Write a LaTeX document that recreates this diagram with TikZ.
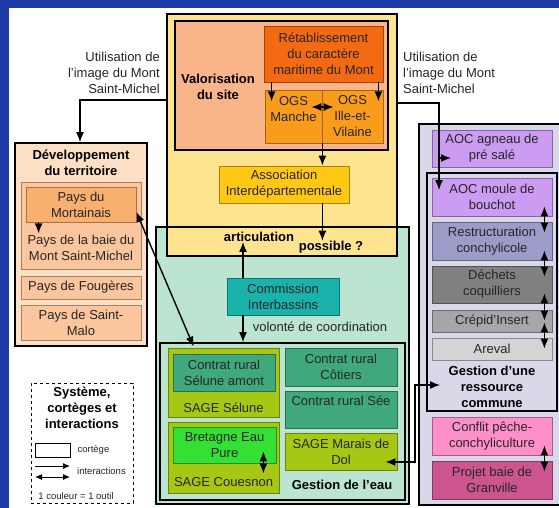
\documentclass[tikz,border=0pt]{standalone}
\usepackage{fontspec}
\setmainfont{Liberation Sans}
\usetikzlibrary{positioning, arrows.meta, calc}

\definecolor{cadre}{HTML}{1D3BA8}
\definecolor{jaune}{HTML}{FFE48F}
\definecolor{saumon}{HTML}{F9B489}
\definecolor{orangeFonce}{HTML}{F46A12}
\definecolor{orangeVif}{HTML}{F99B1B}
\definecolor{dore}{HTML}{FFC814}
\definecolor{menthe}{HTML}{BBE5D0}
\definecolor{turquoise}{HTML}{1AB3AC}
\definecolor{sage}{HTML}{A6C814}
\definecolor{contrat}{HTML}{3FA97C}
\definecolor{eaupure}{HTML}{33E033}
\definecolor{lavande}{HTML}{D8D8E8}
\definecolor{violetAOC}{HTML}{CC9CF2}
\definecolor{bleugris}{HTML}{9C9CC9}
\definecolor{grisFonce}{HTML}{808080}
\definecolor{grisMoyen}{HTML}{A6A6A6}
\definecolor{grisClair}{HTML}{D4D4D4}
\definecolor{rose}{HTML}{FF8FCB}
\definecolor{framboise}{HTML}{CC5590}
\definecolor{peche}{HTML}{FDDFC3}
\definecolor{pecheMoy}{HTML}{FBC69E}
\definecolor{pecheFonce}{HTML}{F8B06F}

\begin{document}
\begin{tikzpicture}[x=1pt, y=-1pt,
	every node/.style={font=\fontsize{13}{16}\selectfont, text=black!85, align=center, inner sep=0pt},
	groupbox/.style={draw=black, line width=1.6pt},
	cellbox/.style={draw=#1!65!black, fill=#1, line width=0.8pt},
	titre/.style={font=\fontsize{13}{16}\selectfont\bfseries, text=black},
	petit/.style={font=\fontsize{9.5}{11}\selectfont},
	link/.style={line width=1.4pt, -{Latex[length=10pt,width=8pt]}},
	twolink/.style={line width=1.4pt, {Latex[length=10pt,width=8pt]}-{Latex[length=10pt,width=8pt]}}]
		
		\useasboundingbox (0,0) rectangle (559,508);
		\fill[cadre] (0,0) rectangle (559,508);
		\fill[white] (9,8) rectangle (559,508);
		
		%Water management block (border drawn again later)
		\node (eau) at (282.5,365.5) [fill=menthe, minimum width=253, minimum height=277] {};
		
		%Site block
		\node (valo) at (282,135) [groupbox, fill=jaune, minimum width=230, minimum height=242] {};
		\node (valoInt) at (281.5,85.5) [groupbox, fill=saumon, minimum width=213, minimum 
		height=129] {};
		\node (valoTitre) at (218,87) [titre] {Valorisation\\du site};
		
		\node (retab) at (323.5,54) [cellbox=orangeFonce, minimum width=119, minimum 
		height=56] {Rétablissement\\du caractère\\maritime du Mont};
		
		\node (ogsM) at (293.5,116.5) [cellbox=orangeVif, minimum width=57, minimum 
		height=53] {OGS\\Manche\\\mbox{}};
		
		\node (ogsI) at (352.5,116.5) [cellbox=orangeVif, minimum width=61, minimum 
		height=53] {OGS\\Ille-et-\\Vilaine};
		
		\node (assoc) at (284,184.5) [cellbox=dore, minimum width=130, minimum 
		height=37] {Association\\Interdépartementale};
		
		\node (artic) at (259,237) [titre] {articulation};
		\node (possible) at (331,247) [titre] {possible ?};
		
		\draw[groupbox] (eau.north west) rectangle (eau.south east);
		
		%Nodes of the water block
		\node (commission) at (283,296.5) [cellbox=turquoise, minimum width=112, minimum 
		height=37] {Commission\\Interbassins};
		\node (volonte) at (320,327) {volonté de coordination};
		
		\node (eauInt) at (282.5,421.5) [groupbox, fill=menthe, minimum width=245, minimum 
		height=157] {};
		
		\node (selune) at (223.5,382.5) [cellbox=sage, minimum width=111, minimum 
		height=69] {};
		\node (seluneAmont) at (224,372.5) [cellbox=contrat, minimum width=102, minimum 
		height=37] {Contrat rural\\Sélune amont};
		\node (seluneTxt) at (223.5,408) {SAGE Sélune};
		
		\node (couesnon) at (223.5,457.5) [cellbox=sage, minimum width=111, minimum 
		height=71] {};
		\node (bretagne) at (224.5,445) [cellbox=eaupure, minimum width=103, minimum 
		height=36] {Bretagne Eau\\Pure};
		\node (couesnonTxt) at (223.5,482) {SAGE Couesnon};
		
		\node (cotiers) at (341,367) [cellbox=contrat, minimum width=112, minimum 
		height=38] {Contrat rural\\Côtiers};
		\node (see) at (341,391) [anchor=north, cellbox=contrat, minimum width=112, text 
		height=14, text depth=23] {Contrat rural Sée};
		\node (marais) at (341,451.5) [cellbox=sage, minimum width=112, minimum 
		height=37] {SAGE Marais de\\Dol};
		\node (eauTitre) at (342,485) [titre] {Gestion de l’eau};
		
		%Nodes of the shared resource block
		\node (ressource) at (492,314.5) [groupbox, fill=lavande, minimum width=146, minimum 
		height=381] {};
		\node (agneau) at (492,148.5) [cellbox=violetAOC, minimum width=120, minimum 
		height=37] {AOC agneau de\\pré salé};
		\node (ressInt) at (492,292) [groupbox, minimum width=130, minimum height=238] {};
		\node (moule) at (492,197) [cellbox=violetAOC, minimum width=120, minimum 
		height=38] {AOC moule de\\bouchot};
		\node (restr) at (492,241) [cellbox=bleugris, minimum width=120, minimum 
		height=38] {Restructuration\\conchylicole};
		\node (dechets) at (492,284.5) [cellbox=grisFonce, minimum width=120, minimum 
		height=37] {Déchets\\coquilliers};
		\node (crepid) at (492,321) [cellbox=grisMoyen, minimum width=120, minimum 
		height=22] {Crépid'Insert};
		\node (areval) at (492,349) [cellbox=grisClair, minimum width=120, minimum 
		height=22] {Areval};
		\node (ressTitre) at (492,387) [titre] {Gestion d’une\\ressource\\commune};
		\node (conflit) at (492,436) [cellbox=rose, minimum width=120, minimum 
		height=38] {Conflit pêche-\\conchyliculture};
		\node (projet) at (492,480) [cellbox=framboise, minimum width=120, minimum 
		height=38] {Projet baie de\\Granville};
		
		%Nodes of the territory block
		\node (dev) at (81,244.5) [groupbox, fill=peche, minimum width=132, minimum 
		height=203] {};
		\node (devTitre) at (81,163) [titre] {Développement\\du territoire};
		\node (paysBaie) at (81,225.5) [cellbox=pecheMoy, minimum width=120, minimum 
		height=87] {};
		\node (mortainais) at (81,204.5) [cellbox=pecheFonce, minimum width=110, minimum 
		height=35] {Pays du\\Mortainais};
		\node (baieTxt) at (81,248) {Pays de la baie du\\Mont Saint-Michel};
		\node (fougeres) at (81,287.5) [cellbox=pecheMoy, minimum width=120, minimum 
		height=23] {Pays de Fougères};
		\node (malo) at (81,322.5) [cellbox=pecheMoy, minimum width=120, minimum 
		height=35] {Pays de Saint-\\Malo};
		
		%Side texts
		\node (utilGauche) at (160,73) [anchor=east, align=right] {Utilisation de\\l'image du 
		Mont\\Saint-Michel};
		\node (utilDroite) at (403,73) [anchor=west, align=left] {Utilisation de\\l'image du 
		Mont\\Saint-Michel};
		
		%Legend
		\node (legende) at (82,443) [draw, dashed, line width=0.6pt, minimum width=102, minimum 
		height=120] {};
		\node (legTitre) at (82,408) [titre] {Système,\\cortèges et\\interactions};
		\node (legBoite) at (52.5,450) [draw, line width=0.8pt, minimum width=35, minimum 
		height=14] {};
		\node (legCortege) [right=7pt of legBoite, petit] {cortège};
		\coordinate (flecheA) at (35,466);
		\coordinate (flecheB) at (70,466);
		\coordinate (flecheC) at (35,477);
		\coordinate (flecheD) at (70,477);
		\node (legInter) at (77,471.5) [anchor=west, petit] {interactions};
		\node (legCouleur) at (76,496) [petit] {1 couleur = 1 outil};
		\draw[line width=1pt, -{Latex[length=7pt,width=6pt]}] (flecheA) -- (flecheB);
		\draw[line width=1pt, {Latex[length=7pt,width=6pt]}-{Latex[length=7pt,width=6pt]}] 
		(flecheC) -- (flecheD);
		
		%Links
		\coordinate (coudeG) at (80,100);
		\draw[link] (valo.west |- coudeG) -- (coudeG) -- (coudeG |- dev.north);
		
		\coordinate (coudeD) at (439,103);
		\coordinate (entreeMoule) at (439,190);
		\coordinate (brancheAgneau) at (439,158);
		\coordinate (entreeAgneau) at (451,158);
		\draw[link] (valo.east |- coudeD) -- (coudeD) -- (entreeMoule);
		\draw[link] (brancheAgneau) -- (entreeAgneau);
		
		\draw[link] ([xshift=8pt]retab.south west) -- ++(0,19);
		\draw[link] ([xshift=-5pt]retab.south east) -- ++(0,19);
		\draw[twolink] ($(ogsM.east)+(-11,-9.5)$) -- ($(ogsI.west)+(12,-9.5)$);
		
		\draw[link] (ogsM.south east) -- (ogsM.south east |- assoc.north);
		\draw[link] (assoc.south -| ogsM.south east) -- (ogsM.south east |- possible.north);
		
		\draw[link] ([xshift=-40pt]commission.north) -- ([xshift=-40pt]commission.north |- 
		artic.south);
		\draw[link] ([xshift=-40pt]commission.south) -- ([xshift=-40pt]commission.south |- 
		eauInt.north);
		
		\draw[link] ([xshift=13pt]mortainais.south west) -- ++(0,11);
		\draw[twolink] ($(mortainais.east)+(0,7.5)$) -- ($(selune.north west)+(26,-1)$);
		
		\draw[twolink] ($(bretagne.south east)+(-13,-12)$) -- ($(bretagne.south east)+(-13,10)$);
		
		\coordinate (coudeBas) at (415,462);
		\coordinate (coudeHaut) at (415,385);
		\coordinate (entreeRess) at (440,385);
		\draw[twolink] ($(marais.east)+(-12,10.5)$) -- (coudeBas) -- (coudeHaut) -- (entreeRess);
		
		%Links among resource tools
		\draw[twolink] ($(moule.south east)+(-8,-10)$) -- ($(restr.north east)+(-8,11)$);
		\draw[twolink] ($(restr.south east)+(-8,-10)$) -- ($(dechets.north east)+(-8,11)$);
		\draw[twolink] ($(dechets.south east)+(-8,-10)$) -- ($(crepid.north east)+(-8,11)$);
		\draw[twolink] ($(crepid.south east)+(-8,-10)$) -- ($(areval.north east)+(-8,11)$);
		\draw[twolink] ($(conflit.south east)+(-8,-10)$) -- ($(projet.north east)+(-8,11)$);
		
\end{tikzpicture}
\end{document}
